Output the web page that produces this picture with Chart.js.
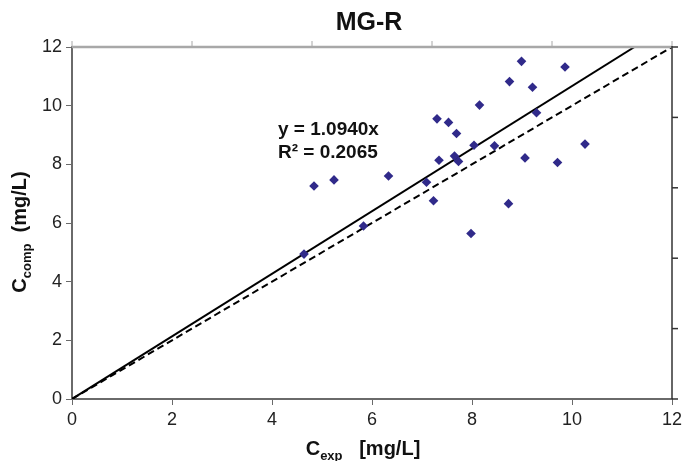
<!DOCTYPE html>
<html>
<head>
<meta charset="utf-8">
<script src="https://cdn.jsdelivr.net/npm/chart.js@4"></script>
<style>
  html, body { margin: 0; padding: 0; background: #fff; }
  #wrap { width: 687px; height: 461px; }
</style>
</head>
<body>
<div id="wrap"><canvas id="grafico" width="687" height="461"></canvas></div>
<script>
// measured vs computed concentration (mg/L)
const cExp = [4.64, 4.84, 5.24, 5.83, 6.33, 7.09, 7.23, 7.30, 7.34, 7.53, 7.65, 7.69, 7.73, 7.98, 8.04, 8.15, 8.45, 8.73, 8.75, 8.99, 9.06, 9.21, 9.29, 9.71, 9.86, 10.26];
const cComp = [4.94, 7.26, 7.47, 5.90, 7.60, 7.39, 6.76, 9.55, 8.14, 9.43, 8.28, 9.05, 8.10, 5.64, 8.65, 10.02, 8.63, 6.66, 10.82, 11.51, 8.22, 10.63, 9.76, 8.06, 11.32, 8.69];

// trend line through origin and 1:1 line (end points)
const trendX = [0, 11.25];
const trendY = [0, 12];
const idealX = [0, 12];
const idealY = [0, 12];

const eqLabels = ["y = 1.0940x", "R\u00B2 = 0.2065"];
const xTicks = [0, 2, 4, 6, 8, 10, 12];

const fonte = '"Liberation Sans", Arial, sans-serif';

function pares(xs, ys) {
  return xs.map((x, i) => ({ x, y: ys[i] }));
}

const textos = {
  id: "textos",
  afterDraw(chart) {
    const ctx = chart.ctx;
    const area = chart.chartArea;
    ctx.save();

    // moldura superior (cinza) e direita com marcas
    ctx.strokeStyle = "#a8a8a8";
    ctx.lineWidth = 2.5;
    ctx.beginPath();
    ctx.moveTo(area.left, area.top);
    ctx.lineTo(area.right, area.top);
    ctx.stroke();
    ctx.lineWidth = 1;
    for (let i = 0; i <= 5; i++) {
      const px = area.left + (area.right - area.left) * i / 5;
      ctx.beginPath();
      ctx.moveTo(px, area.top);
      ctx.lineTo(px, area.top - 6);
      ctx.stroke();
    }
    ctx.strokeStyle = "#333";
    ctx.lineWidth = 1.5;
    ctx.beginPath();
    ctx.moveTo(area.right, area.top - 1);
    ctx.lineTo(area.right, area.bottom);
    ctx.stroke();
    for (let i = 0; i <= 5; i++) {
      const py = area.top + (area.bottom - area.top) * i / 5;
      ctx.beginPath();
      ctx.moveTo(area.right, py);
      ctx.lineTo(area.right + 6, py);
      ctx.stroke();
    }

    ctx.fillStyle = "#111";
    // titulo
    ctx.font = "bold 25px " + fonte;
    ctx.textAlign = "center";
    ctx.textBaseline = "alphabetic";
    ctx.fillText("MG-R", 369, 30);

    // equacao
    ctx.font = "bold 19px " + fonte;
    ctx.textAlign = "left";
    ctx.fillText(eqLabels[0], 278, 135);
    ctx.fillText(eqLabels[1], 278, 158);

    // titulos dos eixos com subscrito
    function desenhaSub(base, sub, resto, cx, by) {
      ctx.font = "bold 20px " + fonte;
      const w1 = ctx.measureText(base).width;
      const w3 = ctx.measureText(resto).width;
      ctx.font = "bold 13px " + fonte;
      const w2 = ctx.measureText(sub).width;
      let px = cx - (w1 + w2 + w3) / 2;
      ctx.textAlign = "left";
      ctx.font = "bold 20px " + fonte;
      ctx.fillText(base, px, by);
      px += w1;
      ctx.font = "bold 13px " + fonte;
      ctx.fillText(sub, px, by + 5);
      px += w2;
      ctx.font = "bold 20px " + fonte;
      ctx.fillText(resto, px, by);
    }
    desenhaSub("C", "exp", "   [mg/L]", 363, 455);

    ctx.save();
    ctx.translate(26, 232);
    ctx.rotate(-Math.PI / 2);
    desenhaSub("C", "comp", "  (mg/L)", 0, 0);
    ctx.restore();

    ctx.restore();
  }
};

const ctx = document.getElementById("grafico").getContext("2d");
new Chart(ctx, {
  type: "scatter",
  data: {
    datasets: [
      {
        label: "dados",
        data: pares(cExp, cComp),
        pointStyle: "rectRot",
        pointRadius: 4.8,
        pointBackgroundColor: "#302a8a",
        pointBorderColor: "#302a8a",
        pointBorderWidth: 0
      },
      {
        label: "tendencia",
        data: pares(trendX, trendY),
        showLine: true,
        borderColor: "#000",
        borderWidth: 2,
        pointRadius: 0
      },
      {
        label: "1:1",
        data: pares(idealX, idealY),
        showLine: true,
        borderColor: "#000",
        borderWidth: 2,
        borderDash: [7, 4],
        pointRadius: 0
      }
    ]
  },
  options: {
    responsive: false,
    animation: false,
    layout: { padding: { top: 47, right: 15, left: 0, bottom: 0 } },
    plugins: {
      legend: { display: false },
      tooltip: { enabled: false }
    },
    scales: {
      x: {
        type: "linear",
        min: 0,
        max: 12,
        afterBuildTicks(scale) {
          scale.ticks = xTicks.map(v => ({ value: v }));
        },
        afterFit(scale) { scale.height = 62; },
        border: { color: "#6a6a6a", width: 2 },
        grid: { drawOnChartArea: false, tickLength: 6, color: "#6a6a6a" },
        ticks: {
          color: "#222",
          padding: 4,
          maxRotation: 0,
          font: { family: fonte, size: 18 }
        }
      },
      y: {
        type: "linear",
        min: 0,
        max: 12,
        afterBuildTicks(scale) {
          scale.ticks = xTicks.map(v => ({ value: v }));
        },
        afterFit(scale) { scale.width = 72; },
        border: { color: "#6a6a6a", width: 2 },
        grid: { drawOnChartArea: false, tickLength: 6, color: "#6a6a6a" },
        ticks: {
          color: "#222",
          padding: 4,
          font: { family: fonte, size: 18 }
        }
      }
    }
  },
  plugins: [textos]
});
</script>
</body>
</html>
